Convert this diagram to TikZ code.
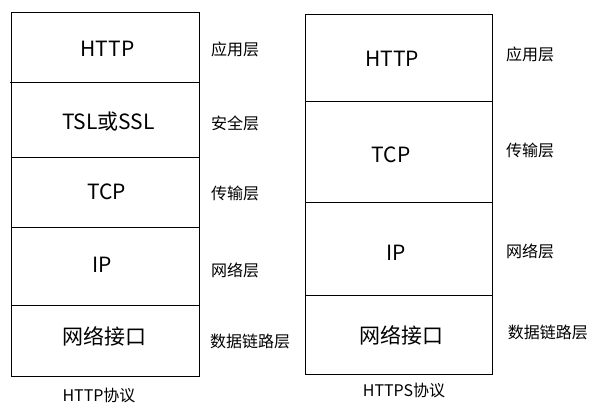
\documentclass[tikz,border=0pt]{standalone}
\usepackage{fontspec}
\setmainfont{Noto Sans CJK SC}
\begin{document}
\begin{tikzpicture}[x=1pt,y=-1pt,
  layerbox/.style={draw=black,line width=0.8pt,inner sep=0pt,anchor=north west},
  main/.style={font=\fontsize{21}{23}\selectfont,inner sep=0pt},
  side/.style={font=\fontsize{16}{18}\selectfont,inner sep=0pt,anchor=west},
  captxt/.style={font=\fontsize{16}{18}\selectfont,inner sep=0pt}]
\useasboundingbox[fill=white] (0,0) rectangle (596,412);
% left stack
\node[layerbox,minimum width=187.4pt,minimum height=69.7pt] (l1) at (11.3,12.3) {};
\node[layerbox,minimum width=187.4pt,minimum height=75.3pt] (l2) at (11.3,82) {};
\node[layerbox,minimum width=187.4pt,minimum height=69.4pt] (l3) at (11.3,157.3) {};
\node[layerbox,minimum width=187.4pt,minimum height=78.6pt] (l4) at (11.3,226.7) {};
\node[layerbox,minimum width=187.4pt,minimum height=70.7pt] (l5) at (11.3,305.3) {};
\coordinate (tick) at (10,82);
\draw[line width=0.8pt] (tick) -- (l2.north west);
\node[main] (lt1) at (107.5,49) {HTTP};
\node[main] (lt2) at (108.5,122) {TSL或SSL};
\node[main] (lt3) at (106.5,192) {TCP};
\node[main] (lt4) at (102,265) {IP};
\node[main] (lt5) at (104.3,336.5) {网络接口};
\node[side] (ls1) at (211,49) {应用层};
\node[side] (ls2) at (211,123.5) {安全层};
\node[side] (ls3) at (211,193) {传输层};
\node[side] (ls4) at (211,270.5) {网络层};
\node[side] (ls5) at (210,341.5) {数据链路层};
\node[captxt] (lc) at (99,395) {HTTP协议};
% right stack
\node[layerbox,minimum width=187pt,minimum height=87pt] (r1) at (305.3,14.3) {};
\node[layerbox,minimum width=187pt,minimum height=101pt] (r2) at (305.3,101.3) {};
\node[layerbox,minimum width=187pt,minimum height=93pt] (r3) at (305.3,202.3) {};
\node[layerbox,minimum width=187pt,minimum height=78.7pt] (r4) at (305.3,295.3) {};
\node[main] (rt1) at (392,59) {HTTP};
\node[main] (rt2) at (391,155) {TCP};
\node[main] (rt3) at (396.5,252.5) {IP};
\node[main] (rt4) at (401.5,335) {网络接口};
\node[side] (rs1) at (506,54) {应用层};
\node[side] (rs2) at (506,150) {传输层};
\node[side] (rs3) at (506,251.7) {网络层};
\node[side] (rs4) at (507.7,332.7) {数据链路层};
\node[captxt] (rc) at (404,390.7) {HTTPS协议};
\end{tikzpicture}
\end{document}
